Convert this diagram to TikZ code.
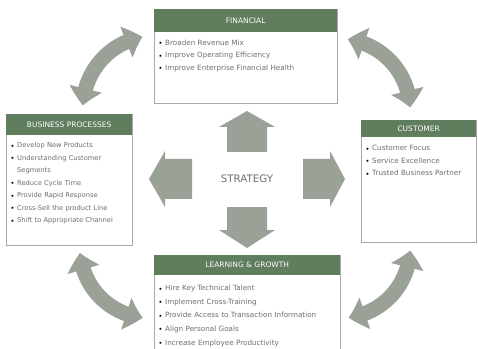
\documentclass[tikz,border=0pt]{standalone}
\usepackage{fontspec}
\setmainfont{DejaVu Sans}
\usetikzlibrary{arrows.meta,bending}
\definecolor{hdr}{HTML}{607D5E}
\definecolor{arr}{HTML}{9AA197}
\definecolor{bord}{HTML}{A8A8A8}
\definecolor{txt}{HTML}{6E6E6E}
\newcommand{\itm}[1]{\par\hangindent=6pt\hangafter=1\noindent\makebox[6pt][l]{\textcolor{black}{\raisebox{0.15ex}{\scalebox{0.7}{$\bullet$}}}}#1}
\begin{document}
\begin{tikzpicture}[x=1pt,y=1pt,
  box/.style={draw=bord, line width=0.8pt, fill=white, inner sep=0pt, anchor=north west},
  head/.style={fill=hdr, text=white, inner sep=0pt, anchor=north west, font=\fontsize{7.5}{9}\selectfont},
  body/.style={anchor=north west, text=txt, inner sep=0pt, text width=#1, align=left, font=\fontsize{7.2}{12.6}\selectfont},
  body/.default=175pt,
  bigarrow/.style={draw=arr, line width=15pt, {Triangle[width=32pt,length=17pt,bend]}-{Triangle[width=32pt,length=17pt,bend]}},
  cross/.style={fill=arr, draw=none}]
\clip (0,0) rectangle (478,348);
\fill[white] (0,0) rectangle (478,348);

% curved arrows
\coordinate (ctl) at (155,240);
\coordinate (ctr) at (339,238);
\coordinate (cbl) at (150,100);
\coordinate (cbr) at (340,100);
\draw[bigarrow] ([shift={(178:72)}]ctl) arc[start angle=178, end angle=100, radius=72];
\draw[bigarrow] ([shift={(83:71)}]ctr) arc[start angle=83, end angle=2, radius=71];
\draw[bigarrow] ([shift={(184:70)}]cbl) arc[start angle=184, end angle=264, radius=70];
\draw[bigarrow] ([shift={(277:70)}]cbr) arc[start angle=277, end angle=358, radius=70];

% FINANCIAL
\node[box, minimum width=183pt, minimum height=94pt] (fin) at (154,339) {};
\node[head, minimum width=183pt, minimum height=23pt] (finh) at (fin.north west) {FINANCIAL};
\node[body] (finb) at ([shift={(5,0)}]finh.south west) {%
\itm{Broaden Revenue Mix}
\itm{Improve Operating Efficiency}
\itm{Improve Enterprise Financial Health}};

% BUSINESS PROCESSES
\node[box, minimum width=126pt, minimum height=131pt] (bp) at (6,234) {};
\node[head, minimum width=126pt, minimum height=21pt] (bph) at (bp.north west) {BUSINESS PROCESSES};
\node[body=125pt, font=\fontsize{6.7}{12.5}\selectfont] (bpb) at ([shift={(5,0.5)}]bph.south west) {%
\itm{Develop New Products}
\itm{Understanding Customer\hfil\break Segments}
\itm{Reduce Cycle Time}
\itm{Provide Rapid Response}
\itm{Cross-Sell the product Line}
\itm{Shift to Appropriate Channel}};

% CUSTOMER
\node[box, minimum width=115pt, minimum height=122pt] (cus) at (361,228) {};
\node[head, minimum width=115pt, minimum height=17pt] (cush) at (cus.north west) {CUSTOMER};
\node[body=112pt] (cusb) at ([shift={(5,-0.5)}]cush.south west) {%
\itm{Customer Focus}
\itm{Service Excellence}
\itm{Trusted Business Partner}};

% LEARNING & GROWTH
\node[box, minimum width=186pt, minimum height=110pt] (lg) at (154,93) {};
\node[head, minimum width=186pt, minimum height=20pt] (lgh) at (lg.north west) {LEARNING \& GROWTH};
\node[body=180pt, font=\fontsize{7.2}{13.6}\selectfont] (lgb) at ([shift={(5,-1.5)}]lgh.south west) {%
\itm{Hire Key Technical Talent}
\itm{Implement Cross-Training}
\itm{Provide Access to Transaction Information}
\itm{Align Personal Goals}
\itm{Increase Employee Productivity}};

% STRATEGY cross
\node[text=txt, font=\fontsize{10.3}{12}\selectfont] (str) at (247,169) {STRATEGY};
\fill[cross] (227,196) -- (227,221) -- (219,221) -- (247,237) -- (275,221) -- (267,221) -- (267,196) -- cycle;
\fill[cross] (227,141) -- (227,118) -- (219,118) -- (247,100) -- (275,118) -- (267,118) -- (267,141) -- cycle;
\fill[cross] (192,149) -- (165,149) -- (165,141) -- (149,169) -- (165,197) -- (165,189) -- (192,189) -- cycle;
\fill[cross] (303,149) -- (330,149) -- (330,141) -- (345,169) -- (330,197) -- (330,189) -- (303,189) -- cycle;
\end{tikzpicture}
\end{document}
